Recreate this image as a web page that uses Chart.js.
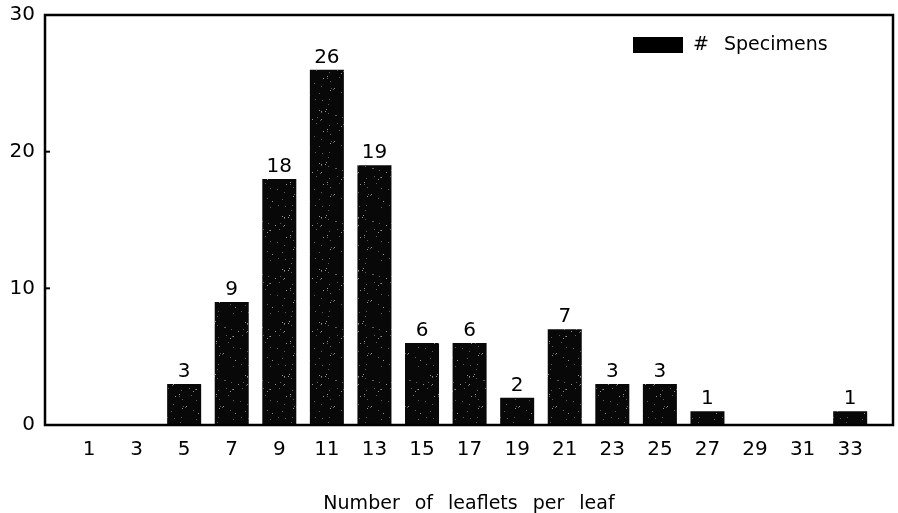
<!DOCTYPE html>
<html>
<head>
<meta charset="utf-8">
<script src="https://cdn.jsdelivr.net/npm/chart.js@4.4.0/dist/chart.umd.min.js"></script>
<style>
  html, body { margin: 0; padding: 0; background: #fff; }
  canvas { display: block; }
</style>
</head>
<body>
<canvas id="chart" width="898" height="513"></canvas>
<script>
// Leaflets per leaf and number of specimens found for each count
var leaflets  = [1, 3, 5, 7, 9, 11, 13, 15, 17, 19, 21, 23, 25, 27, 29, 31, 33];
var specimens = [0, 0, 3, 9, 18, 26, 19, 6, 6, 2, 7, 3, 3, 1, 0, 0, 1];
var yTicks = [0, 10, 20, 30];
var seriesLabel = '# Specimens';
var xTitle = 'Number of leaflets per leaf';

var FONT = 'DejaVu Sans';

// black fill with a light speckle, like a photocopied bar
function grainPattern() {
  var c = document.createElement('canvas');
  c.width = 37; c.height = 53;
  var g = c.getContext('2d');
  g.fillStyle = '#080808';
  g.fillRect(0, 0, c.width, c.height);
  var s = 11;
  for (var i = 0; i < 40; i++) {
    s = (s * 16807) % 2147483647;
    var px = s % c.width;
    s = (s * 16807) % 2147483647;
    var py = s % c.height;
    g.fillStyle = i % 3 ? '#5c5c5c' : '#949494';
    g.fillRect(px, py, 1, 1);
  }
  return g.createPattern(c, 'repeat');
}

var barFill = grainPattern();

// frame, inward y ticks, value labels and the legend inside the plot
var plotDecor = {
  id: 'plotDecor',
  beforeDraw: function(chart) {
    chart.ctx.wordSpacing = '9px';
  },
  afterDatasetsDraw: function(chart) {
    var ctx = chart.ctx, a = chart.chartArea, y = chart.scales.y;
    ctx.save();
    ctx.strokeStyle = '#000';
    ctx.lineWidth = 2.5;
    ctx.strokeRect(a.left, a.top, a.right - a.left, a.bottom - a.top);
    ctx.lineWidth = 2;
    yTicks.forEach(function(t) {
      var py = y.getPixelForValue(t);
      ctx.beginPath();
      ctx.moveTo(a.left, py);
      ctx.lineTo(a.left + 5, py);
      ctx.stroke();
    });

    ctx.fillStyle = '#000';
    ctx.font = '20px "' + FONT + '"';
    ctx.textAlign = 'center';
    ctx.textBaseline = 'alphabetic';
    var meta = chart.getDatasetMeta(0);
    meta.data.forEach(function(bar, i) {
      if (specimens[i] > 0) ctx.fillText(String(specimens[i]), bar.x, bar.y - 7);
    });

    // legend
    var bx = a.right - 260, by = a.top + 22;
    ctx.fillRect(bx, by, 50, 16);
    ctx.font = '19px "' + FONT + '"';
    ctx.textAlign = 'left';
    ctx.textBaseline = 'middle';
    ctx.fillText(seriesLabel, bx + 60, by + 8);
    ctx.restore();
  }
};

var chart = new Chart(document.getElementById('chart'), {
  type: 'bar',
  data: {
    datasets: [{
      label: seriesLabel,
      data: leaflets.map(function(v, i) { return {x: v, y: specimens[i]}; }),
      backgroundColor: barFill,
      borderWidth: 0,
      barPercentage: 0.715,
      categoryPercentage: 1
    }]
  },
  options: {
    responsive: false,
    animation: false,
    devicePixelRatio: 1,
    layout: { padding: {top: 15, right: 5, left: 0, bottom: 0} },
    plugins: {
      legend: { display: false },
      tooltip: { enabled: false }
    },
    scales: {
      x: {
        type: 'linear',
        offset: false,
        min: -0.85,
        max: 34.8,
        afterBuildTicks: function(axis) {
          axis.ticks = leaflets.map(function(v) { return {value: v}; });
        },
        afterFit: function(scale) { scale.height = 88; },
        grid: { display: false, drawTicks: false },
        border: { display: false },
        ticks: {
          autoSkip: false,
          maxRotation: 0,
          padding: 13,
          color: '#000',
          font: { family: FONT, size: 20 },
          callback: function(v) { return v; }
        },
        title: {
          display: true,
          text: xTitle,
          color: '#000',
          padding: {top: 0, bottom: -2},
          font: { family: FONT, size: 19 }
        }
      },
      y: {
        min: 0,
        max: 30,
        afterBuildTicks: function(axis) {
          axis.ticks = yTicks.map(function(v) { return {value: v}; });
        },
        afterFit: function(scale) {
          scale.width = 45;
          scale.paddingTop = 0;
          scale.paddingBottom = 0;
        },
        grid: { display: false, drawTicks: false },
        border: { display: false },
        ticks: {
          padding: 10,
          color: '#000',
          font: { family: FONT, size: 20 }
        }
      }
    }
  },
  plugins: [plotDecor]
});
</script>
</body>
</html>
